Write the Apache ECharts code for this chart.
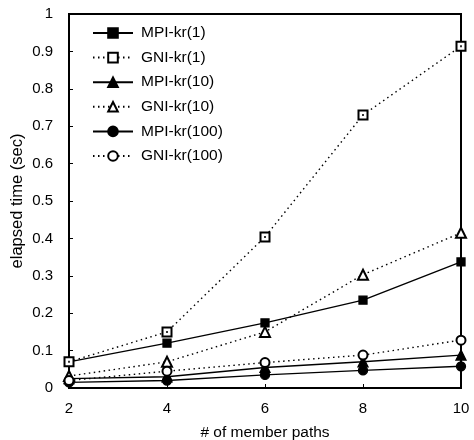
<!DOCTYPE html>
<html><head><meta charset="utf-8">
<script src="https://cdn.jsdelivr.net/npm/echarts@6/dist/echarts.min.js"></script>
<style>html,body{margin:0;padding:0;background:#fff}#c{width:474px;height:440px}</style>
</head><body><div id="c"></div>
<script>
const memberPaths = [2, 4, 6, 8, 10];
const mpi1   = [0.070, 0.120, 0.174, 0.235, 0.337];
const gni1   = [0.070, 0.150, 0.404, 0.730, 0.914];
const mpi10  = [0.025, 0.030, 0.055, 0.070, 0.088];
const gni10  = [0.032, 0.070, 0.150, 0.303, 0.415];
const mpi100 = [0.015, 0.020, 0.035, 0.047, 0.058];
const gni100 = [0.020, 0.045, 0.068, 0.088, 0.128];
const yTicks = [0, 0.1, 0.2, 0.3, 0.4, 0.5, 0.6, 0.7, 0.8, 0.9, 1];

const dots = [1.5, 3.5];
const seriesDefs = [
  {name: 'MPI-kr(1)', data: mpi1, symbol: 'rect', dash: 'solid', size: 8},
  {name: 'GNI-kr(1)', data: gni1, symbol: 'emptyRect', dash: dots, size: 9},
  {name: 'MPI-kr(10)', data: mpi10, symbol: 'triangle', dash: 'solid', size: 10},
  {name: 'GNI-kr(10)', data: gni10, symbol: 'emptyTriangle', dash: dots, size: 10},
  {name: 'MPI-kr(100)', data: mpi100, symbol: 'circle', dash: 'solid', size: 9},
  {name: 'GNI-kr(100)', data: gni100, symbol: 'emptyCircle', dash: dots, size: 9}
];

const chart = echarts.init(document.getElementById('c'));
const font = 'Liberation Sans, Arial, sans-serif';
const series = seriesDefs.map(s => ({
  name: s.name, type: 'line',
  data: memberPaths.map((x, i) => [x, s.data[i]]),
  symbol: s.symbol, symbolSize: s.size,
  showAllSymbol: true,
  itemStyle: {color: '#000', borderColor: '#000', borderWidth: 1.3},
  lineStyle: {color: '#000', width: 1.4, type: s.dash},
  clip: false
}));
// centre dots inside the open squares of GNI-kr(1)
series.push({
  type: 'scatter', data: memberPaths.map((x, i) => [x, gni1[i]]),
  symbol: 'rect', symbolSize: 2, itemStyle: {color: '#000'}, z: 5, silent: true
});
chart.setOption({
  animation: false,
  backgroundColor: '#fff',
  grid: {left: 69, right: 13, top: 14, bottom: 52, containLabel: false, outerBoundsMode: 'none'},
  legend: {
    orient: 'vertical', left: 87, top: 20, padding: 5,
    itemWidth: 40, itemHeight: 12, itemGap: 8.6,
    textStyle: {fontFamily: font, fontSize: 15.5, color: '#000', padding: [0,0,0,3]},
    data: seriesDefs.map(s => s.name)
  },
  xAxis: {
    type: 'value', min: 2, max: 10, interval: 2,
    name: '# of member paths', nameLocation: 'middle', nameGap: 37, nameMoveOverlap: false,
    nameTextStyle: {fontFamily: font, fontSize: 15.5, color: '#000'},
    axisLine: {show: true, lineStyle: {color: '#000', width: 2}},
    axisTick: {show: true, inside: true, length: 4, lineStyle: {color: '#000'}},
    axisLabel: {fontFamily: font, fontSize: 15, color: '#000', margin: 13,
      formatter: v => String(memberPaths.includes(v) ? v : '')},
    splitLine: {show: false}
  },
  yAxis: {
    type: 'value', min: 0, max: 1, interval: 0.1,
    name: 'elapsed time (sec)', nameLocation: 'middle', nameGap: 43, nameMoveOverlap: false,
    nameTextStyle: {fontFamily: font, fontSize: 16.5, color: '#000'},
    axisLine: {show: true, lineStyle: {color: '#000', width: 2}},
    axisTick: {show: true, inside: true, length: 4, lineStyle: {color: '#000'}},
    axisLabel: {fontFamily: font, fontSize: 15, color: '#000', margin: 16,
      formatter: v => { const t = yTicks.find(x => Math.abs(x - v) < 1e-9); return t === undefined ? '' : String(t); }},
    splitLine: {show: false}
  },
  series: series
});
setTimeout(() => {
  const g = chart.getModel().getComponent('grid').coordinateSystem.getRect();
  chart.setOption({graphic: [{type: 'rect', shape: {x: g.x, y: g.y, width: g.width, height: g.height},
    style: {fill: 'none', stroke: '#000', lineWidth: 2}, silent: true, z: 0}]});
}, 0);
</script></body></html>
